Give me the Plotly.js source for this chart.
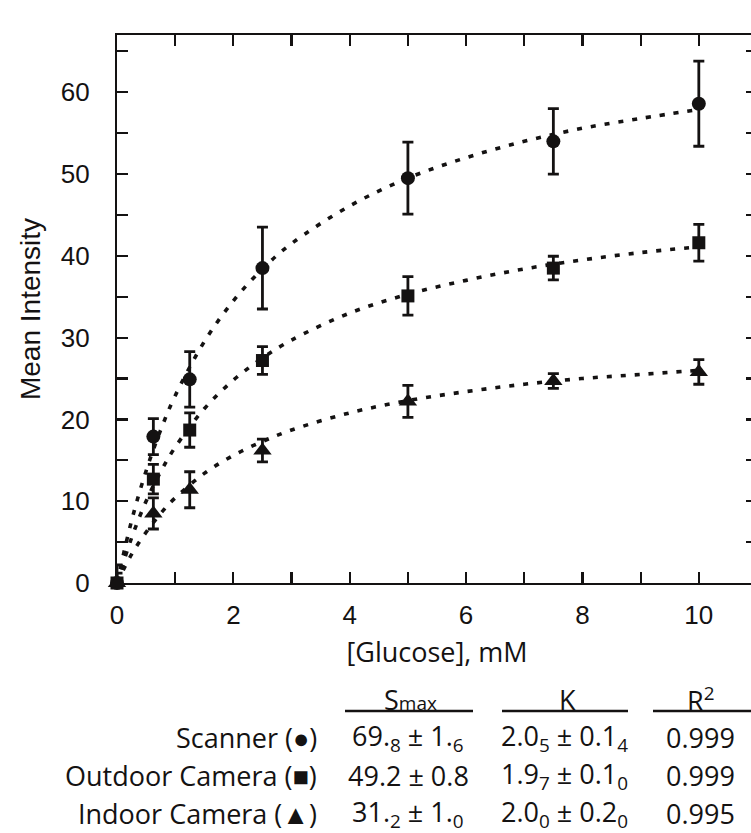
<!DOCTYPE html>
<html>
<head>
<meta charset="utf-8">
<script src="https://cdn.plot.ly/plotly-3.0.1.min.js"></script>
<style>
html,body{margin:0;padding:0;overflow:hidden;background:#fff;}
#chart{width:760px;height:833px;}
</style>
</head>
<body>
<div id="chart"></div>
<script>
// ---- data ----
const glucose = [0, 0.625, 1.25, 2.5, 5, 7.5, 10];
const scannerY = [0, 17.9, 24.9, 38.5, 49.5, 54.0, 58.6];
const scannerErr = [2.2, 2.2, 3.4, 5.0, 4.4, 4.0, 5.2];
const outdoorY = [0, 12.7, 18.7, 27.2, 35.1, 38.5, 41.6];
const outdoorErr = [1.2, 1.8, 2.1, 1.7, 2.35, 1.45, 2.25];
const indoorY = [0, 8.5, 11.4, 16.2, 22.2, 24.7, 25.8];
const indoorErr = [0.5, 1.9, 2.2, 1.4, 1.95, 0.9, 1.5];

const fitX = [0, 0.25, 0.5, 0.75, 1, 1.5, 2, 2.5, 3, 4, 5, 6, 7, 8, 9, 10];
const scannerFit = [0, 7.6, 13.7, 18.7, 22.9, 29.5, 34.5, 38.4, 41.5, 46.1, 49.5, 52.0, 54.0, 55.6, 56.8, 57.9];
const outdoorFit = [0, 5.5, 10.0, 13.6, 16.6, 21.3, 24.8, 27.5, 29.7, 33.0, 35.3, 37.0, 38.4, 39.5, 40.4, 41.1];
const indoorFit = [0, 3.5, 6.2, 8.5, 10.4, 13.4, 15.6, 17.3, 18.7, 20.8, 22.3, 23.4, 24.3, 25.0, 25.5, 26.0];

const xTickVals = [0, 2, 4, 6, 8, 10];
const xTickText = ['0', '2', '4', '6', '8', '10'];
const yTickVals = [0, 10, 20, 30, 40, 50, 60];
const yTickText = ['0', '10', '20', '30', '40', '50', '60'];

const tableRows = ['Scanner (●)', 'Outdoor Camera (■)', 'Indoor Camera (▲)'];
const tableSmax = ['69.<sub>8</sub> ± 1.<sub>6</sub>', '49.2 ± 0.8', '31.<sub>2</sub> ± 1.<sub>0</sub>'];
const tableK = ['2.0<sub>5</sub> ± 0.1<sub>4</sub>', '1.9<sub>7</sub> ± 0.1<sub>0</sub>', '2.0<sub>0</sub> ± 0.2<sub>0</sub>'];
const tableR2 = ['0.999', '0.999', '0.995'];
const tableHeaders = ['S<span style="font-size:19px">max</span>', 'K', 'R<sup>2</sup>'];

// ---- layout helpers (pixel -> paper) ----
const ML = 117, PW = 640, MT = 35, PH = 548;
const xp = px => (px - ML) / PW;
const yp = py => (MT + PH - py) / PH;

const ink = '#141212';
const tblFamily = 'Open Sans, Noto Sans, sans-serif';
const tblFont = {family: tblFamily, size: 27, color: ink};

const dotLine = {color: ink, width: 3.6, dash: '5px,9px', shape: 'spline'};

function fitTrace(y) {
  return {x: fitX, y: y, mode: 'lines', line: dotLine, hoverinfo: 'skip', cliponaxis: false};
}
function dataTrace(y, err, symbol, size) {
  return {
    x: glucose, y: y, mode: 'markers', cliponaxis: false,
    marker: {symbol: symbol, size: size, color: ink, line: {width: 0}},
    error_y: {type: 'data', array: err, visible: true, thickness: 2.8, width: 5.5, color: ink}
  };
}

const traces = [
  fitTrace(scannerFit), fitTrace(outdoorFit), fitTrace(indoorFit),
  dataTrace(scannerY, scannerErr, 'circle', 14),
  dataTrace(outdoorY, outdoorErr, 'square', 13),
  dataTrace(indoorY, indoorErr, 'triangle-up', 16)
];

const annotations = [];
const shapes = [];
const headerX = [410, 567, 700];
const lineSpans = [[345, 473], [502, 628], [653, 760]];
tableHeaders.forEach((h, i) => {
  annotations.push({xref: 'paper', yref: 'paper', x: xp(headerX[i]), y: yp(699), text: h,
    showarrow: false, xanchor: 'center', yanchor: 'middle', font: tblFont});
  shapes.push({type: 'line', xref: 'paper', yref: 'paper', x0: xp(lineSpans[i][0]), x1: xp(lineSpans[i][1]),
    y0: yp(711), y1: yp(711), line: {color: ink, width: 2.6}});
});
const rowY = [737, 775, 813];
const colX = [408, 564, 700];
tableRows.forEach((r, i) => {
  annotations.push({xref: 'paper', yref: 'paper', x: xp(319), y: yp(rowY[i]), text: r,
    showarrow: false, xanchor: 'right', yanchor: 'middle', font: tblFont});
  [tableSmax[i], tableK[i], tableR2[i]].forEach((t, j) => {
    annotations.push({xref: 'paper', yref: 'paper', x: xp(colX[j]), y: yp(rowY[i]), text: t,
      showarrow: false, xanchor: 'center', yanchor: 'middle', font: tblFont});
  });
});

const axisCommon = {
  showgrid: false, zeroline: false, showline: true, linecolor: ink, linewidth: 2.2,
  mirror: 'ticks', ticks: 'inside', ticklen: 11, tickwidth: 2.2, tickcolor: ink,
  tickfont: {family: 'Liberation Sans, Arial, sans-serif', size: 26, color: ink},
  fixedrange: true
};

const layout = {
  width: 760, height: 833,
  margin: {l: ML, r: 760 - ML - PW, t: MT, b: 833 - MT - PH},
  paper_bgcolor: '#ffffff', plot_bgcolor: '#ffffff',
  showlegend: false,
  xaxis: Object.assign({}, axisCommon, {
    range: [0, 11], tickmode: 'array', tickvals: xTickVals, ticktext: xTickText,
    minor: {dtick: 1, ticks: 'inside', ticklen: 11, tickwidth: 2.2, tickcolor: ink, showgrid: false},
    ticklabelstandoff: 8,
    title: {text: '[Glucose], mM', font: {family: tblFamily, size: 27, color: ink}, standoff: 14}
  }),
  yaxis: Object.assign({}, axisCommon, {
    range: [0, 67], tickmode: 'array', tickvals: yTickVals, ticktext: yTickText,
    minor: {dtick: 5, ticks: 'inside', ticklen: 11, tickwidth: 2.2, tickcolor: ink, showgrid: false},
    ticklabelstandoff: 20,
    title: {text: 'Mean Intensity', font: {family: 'Liberation Sans, Arial, sans-serif', size: 28, color: ink}, standoff: 12}
  }),
  annotations: annotations,
  shapes: shapes
};

Plotly.newPlot('chart', traces, layout, {displayModeBar: false, staticPlot: true});
</script>
</body>
</html>
